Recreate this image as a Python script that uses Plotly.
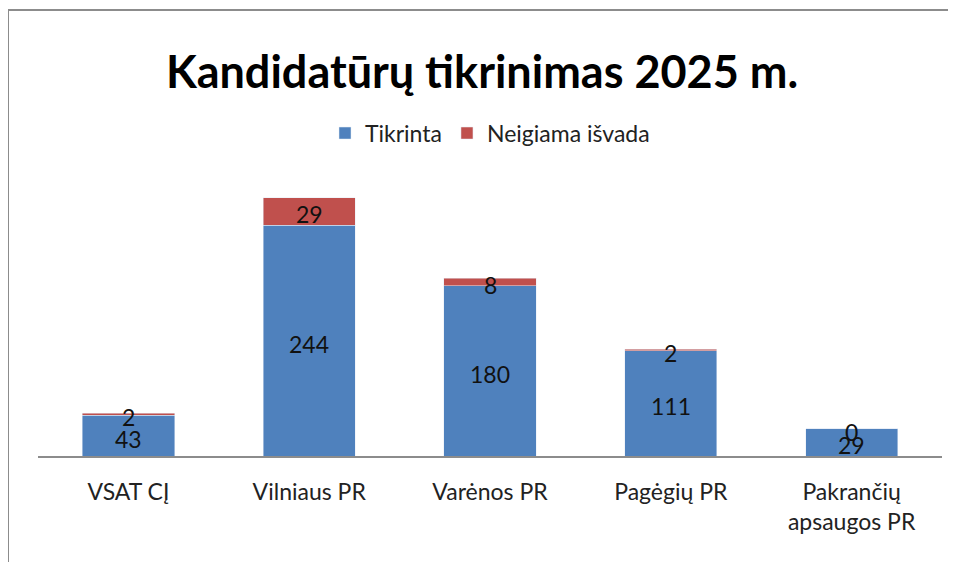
import plotly.graph_objects as go

categories = ["VSAT CĮ", "Vilniaus PR", "Varėnos PR", "Pagėgių PR", "Pakrančių<br>apsaugos PR"]
tikrinta = [43, 244, 180, 111, 29]
neigiama = [2, 29, 8, 2, 0]

BLUE = "#4F81BD"
RED = "#C0504D"
FONT = "Lato, Open Sans, sans-serif"

fig = go.Figure()
fig.add_trace(go.Bar(x=categories, y=tikrinta, name="Tikrinta", marker_color=BLUE,
                     width=0.51, hoverinfo="x+y"))
fig.add_trace(go.Bar(x=categories, y=neigiama, name="Neigiama išvada", marker_color=RED,
                     width=0.51, hoverinfo="x+y"))

# data labels centered in each segment
mid_blue = [v / 2 for v in tikrinta]
mid_red = [t + n / 2 for t, n in zip(tikrinta, neigiama)]
annotations = []
for cat, y, v in list(zip(categories, mid_blue, tikrinta)) + list(zip(categories, mid_red, neigiama)):
    annotations.append(dict(x=cat, y=y, xref="x", yref="y", text=str(v), showarrow=False,
                            yshift=-3, font=dict(size=23, color="#111", family=FONT)))

W, H = 948, 554  # page body has an 8px margin
fig.update_layout(
    width=W, height=H,
    barmode="stack",
    paper_bgcolor="white", plot_bgcolor="white",
    margin=dict(l=30, r=14, t=164, b=106),
    font=dict(family=FONT, color="#222"),
    title=dict(text="<b>Kandidatūrų tikrinimas 2025 m.</b>", x=0.5, xanchor="center",
               y=1 - 64 / H, yanchor="middle", yref="container",
               font=dict(size=45, color="#000", family=FONT)),
    legend=dict(orientation="h", x=0.5, xanchor="center", y=1.137, yanchor="middle",
                font=dict(size=23, color="#222"), traceorder="normal",
                itemwidth=30, bgcolor="rgba(0,0,0,0)"),
    xaxis=dict(showline=True, linecolor="#8c8c8c", linewidth=2, ticks="",
               tickfont=dict(size=23, color="#222"), showgrid=False, ticklabelstandoff=14),
    yaxis=dict(range=[0, 300], visible=False, showgrid=False),
    annotations=annotations,
    shapes=[dict(type="rect", xref="paper", yref="paper",
                 x0=(0 - 30) / 904, x1=1.2, y0=-0.6, y1=(456 - 10) / 284,
                 line=dict(color="#8c8c8c", width=2), fillcolor="rgba(0,0,0,0)", layer="below")],
)

fig.write_html("out.html")
